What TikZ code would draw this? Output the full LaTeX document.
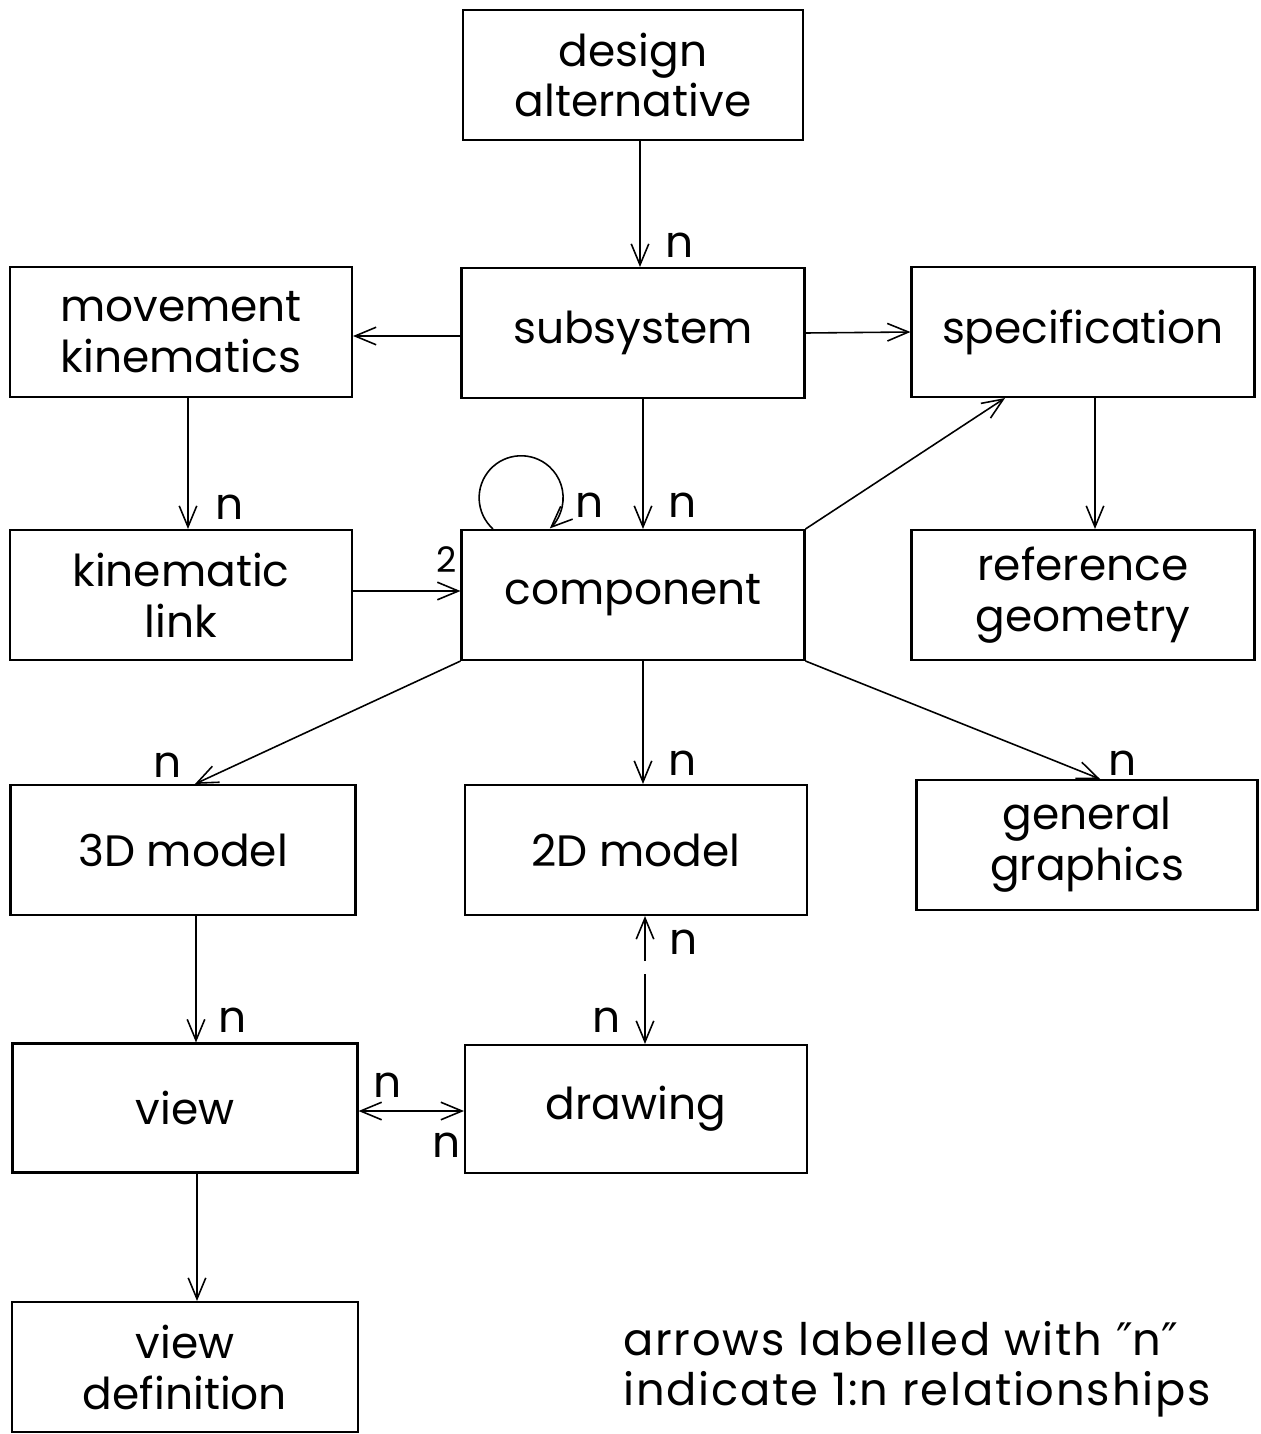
\documentclass[tikz,border=0pt]{standalone}
\usepackage{fontspec}
\setmainfont{Poppins}
\newfontfamily\symfont{DejaVu Sans}
\usetikzlibrary{arrows.meta}
\begin{document}
\begin{tikzpicture}[x=0.02cm,y=0.02cm,
  box/.style={draw, line width=1.2pt, minimum width=6.86cm, minimum height=2.6cm,
    align=center, inner sep=0pt, font=\fontsize{25}{29}\selectfont},
  arr/.style={-{Straight Barb[length=12pt,width=10pt,line width=0.9pt]}, line width=0.9pt},
  dbl/.style={{Straight Barb[length=12pt,width=10pt,line width=0.9pt]}-{Straight Barb[length=12pt,width=10pt,line width=0.9pt]}, line width=0.9pt},
  lbl/.style={inner sep=0pt, font=\fontsize{25}{29}\selectfont},
  note/.style={inner sep=0pt, font=\fontsize{25.5}{29}\selectfont\addfontfeatures{LetterSpace=4}},
  small/.style={inner sep=0pt, font=\fontsize{20}{22}\selectfont}]
\useasboundingbox (0,0) rectangle (1261,-1434);

\node[box, minimum width=6.8cm] (design) at (633,-75) {design\\alternative};
\node[box, minimum width=6.84cm] (move) at (181,-332) {movement\\kinematics};
\node[box] (subsys) at (633,-333) {subsystem};
\node[box] (spec) at (1083,-332) {specification};
\node[box, minimum width=6.84cm] (kin) at (181,-595) {kinematic\\link};
\node[box] (comp) at (633,-595) {component};
\node[box] (ref) at (1083,-595) {reference\\geometry};
\node[box, minimum width=6.9cm] (three) at (183,-850) {3D model};
\node[box, minimum width=6.84cm] (two) at (636,-850) {2D model};
\node[box, minimum width=6.82cm] (gen) at (1087,-845) {general\\graphics};
\node[box, minimum width=6.9cm, minimum height=2.58cm] (view) at (185,-1108) {view};
\node[box, minimum width=6.84cm, minimum height=2.56cm] (drawing) at (636,-1109) {drawing};
\node[box, minimum width=6.92cm] (vdef) at (185,-1367) {view\\definition};

% connectors
\draw[arr] ([xshift=0.14cm]design.south) coordinate (a1) -- (a1 |- subsys.north);
\draw[arr] ([yshift=-0.06cm]subsys.west) coordinate (a2) -- (a2 -| move.east);
\draw[arr] (subsys.east) -- (spec.west);
\draw[arr] ([xshift=0.14cm]move.south) coordinate (a3) -- (a3 |- kin.north);
\draw[arr] ([xshift=0.2cm]subsys.south) coordinate (a4) -- (a4 |- comp.north);
\draw[arr] ([xshift=-2.8cm]comp.north) arc[start angle=228, end angle=-47, radius=0.84cm];
\draw[arr] ([yshift=0.08cm]kin.east) coordinate (a5) -- (a5 -| comp.west);
\draw[arr] (comp.north east) -- ([xshift=-1.56cm]spec.south);
\draw[arr] ([xshift=0.24cm]spec.south) coordinate (a6) -- (a6 |- ref.north);
\draw[arr] (comp.south west) -- ([xshift=0.24cm]three.north);
\draw[arr] ([xshift=0.2cm]comp.south) coordinate (a7) -- (a7 |- two.north);
\draw[arr] (comp.south east) -- ([xshift=0.26cm]gen.north);
\draw[arr] ([xshift=0.26cm]three.south) coordinate (a8) -- (a8 |- view.north);
\coordinate (m1) at (645,-961);
\coordinate (m2) at (645,-974);
\draw[arr] (m1) -- (m1 |- two.south);
\draw[arr] (m2) -- (m2 |- drawing.north);
\draw[dbl] ([yshift=-0.06cm]view.east) coordinate (a9) -- (a9 -| drawing.west);
\draw[arr] ([xshift=0.24cm]view.south) coordinate (a10) -- (a10 |- vdef.north);

% labels
\node[lbl] (n1) at (680,-245) {n};
\node[lbl] (n2) at (230,-507) {n};
\node[lbl] (n3) at (590,-505) {n};
\node[lbl] (n4) at (683,-505) {n};
\node[small] (two2) at (447,-560) {2};
\node[lbl] (n5) at (168,-765) {n};
\node[lbl] (n6) at (683,-763) {n};
\node[lbl] (n7) at (1123,-763) {n};
\node[lbl] (n8) at (684,-942) {n};
\node[lbl] (n9) at (607,-1020) {n};
\node[lbl] (n10) at (233,-1020) {n};
\node[lbl] (n11) at (388,-1085) {n};
\node[lbl] (n12) at (447,-1145) {n};

\node[note, anchor=base west] (note1) at (623,-1355) {arrows labelled with {\symfont″}n{\symfont″}};
\node[note, anchor=base west] (note2) at (623,-1405) {indicate 1:n relationships};
\end{tikzpicture}
\end{document}
